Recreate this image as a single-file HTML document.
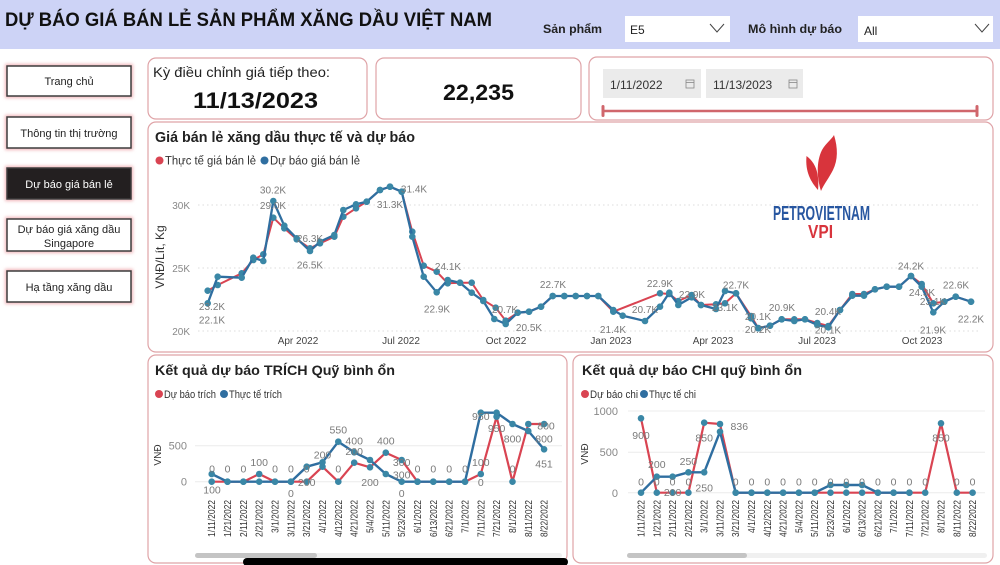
<!DOCTYPE html>
<html><head><meta charset="utf-8"><style>
html,body{margin:0;padding:0;background:#fff;}
svg{display:block;}
text{font-family:"Liberation Sans",sans-serif;}
</style></head><body>
<svg width="1000" height="565" viewBox="0 0 1000 565" xmlns="http://www.w3.org/2000/svg">
<defs>
<marker id="dot" markerWidth="8" markerHeight="8" refX="4" refY="4" markerUnits="userSpaceOnUse"><circle cx="4" cy="4" r="3.3" fill="#3a87a6"/></marker>
<filter id="glow" x="-20%" y="-40%" width="140%" height="180%"><feGaussianBlur stdDeviation="1.6"/></filter>
</defs>
<rect width="1000" height="565" fill="#fff"/>
<!-- header -->
<rect x="0" y="0" width="1000" height="49" fill="#cdd3f6"/>
<text x="5" y="26" font-size="19" font-weight="bold" fill="#111" textLength="487" lengthAdjust="spacingAndGlyphs">DỰ BÁO GIÁ BÁN LẺ SẢN PHẨM XĂNG DẦU VIỆT NAM</text>
<text x="543" y="33" font-size="12" font-weight="bold" fill="#222" textLength="59" lengthAdjust="spacingAndGlyphs">Sản phẩm</text>
<rect x="625" y="16" width="105" height="26" fill="#fff"/>
<text x="630" y="34" font-size="12" fill="#222">E5</text>
<polyline points="710,24 717,32 724,24" fill="none" stroke="#444" stroke-width="1"/>
<text x="748" y="33" font-size="12" font-weight="bold" fill="#222" textLength="94" lengthAdjust="spacingAndGlyphs">Mô hình dự báo</text>
<rect x="858" y="16" width="135" height="26" fill="#fff"/>
<text x="864" y="35" font-size="12" fill="#222">All</text>
<polyline points="975,24 982,32 989,24" fill="none" stroke="#444" stroke-width="1"/>

<!-- sidebar -->
<g>
<rect x="7" y="66" width="124" height="30" fill="none" stroke="#f0b4b8" stroke-width="4" filter="url(#glow)"/>
<rect x="7" y="66" width="124" height="30" fill="#fff" stroke="#3c3c3c" stroke-width="1.5"/>
<text x="69" y="85" font-size="11" fill="#222" text-anchor="middle">Trang chủ</text>
<rect x="7" y="117" width="124" height="31" fill="none" stroke="#f0b4b8" stroke-width="4" filter="url(#glow)"/>
<rect x="7" y="117" width="124" height="31" fill="#fff" stroke="#3c3c3c" stroke-width="1.5"/>
<text x="69" y="137" font-size="11" fill="#222" text-anchor="middle">Thông tin thị trường</text>
<rect x="7" y="168" width="124" height="31" fill="none" stroke="#f0b4b8" stroke-width="4" filter="url(#glow)"/>
<rect x="7" y="168" width="124" height="31" fill="#231f20" stroke="#3c3c3c" stroke-width="1.5"/>
<text x="69" y="188" font-size="11" fill="#fff" text-anchor="middle">Dự báo giá bán lẻ</text>
<rect x="7" y="219" width="124" height="32" fill="none" stroke="#f0b4b8" stroke-width="4" filter="url(#glow)"/>
<rect x="7" y="219" width="124" height="32" fill="#fff" stroke="#3c3c3c" stroke-width="1.5"/>
<text x="69" y="233" font-size="11" fill="#222" text-anchor="middle">Dự báo giá xăng dầu</text>
<text x="69" y="247" font-size="11" fill="#222" text-anchor="middle">Singapore</text>
<rect x="7" y="271" width="124" height="31" fill="none" stroke="#f0b4b8" stroke-width="4" filter="url(#glow)"/>
<rect x="7" y="271" width="124" height="31" fill="#fff" stroke="#3c3c3c" stroke-width="1.5"/>
<text x="69" y="291" font-size="11" fill="#222" text-anchor="middle">Hạ tầng xăng dầu</text>
</g>

<!-- cards -->
<rect x="148" y="58" width="219" height="61" rx="8" fill="#fff" stroke="#dfa3a7" stroke-width="1.2"/>
<text x="153" y="77" font-size="14" fill="#222" textLength="177" lengthAdjust="spacingAndGlyphs">Kỳ điều chỉnh giá tiếp theo:</text>
<text x="193" y="108" font-size="22" font-weight="bold" fill="#111" textLength="125" lengthAdjust="spacingAndGlyphs">11/13/2023</text>
<rect x="376" y="58" width="205" height="61" rx="8" fill="#fff" stroke="#dfa3a7" stroke-width="1.2"/>
<text x="443" y="100" font-size="22" font-weight="bold" fill="#111" textLength="71" lengthAdjust="spacingAndGlyphs">22,235</text>
<rect x="589" y="57" width="404" height="63" rx="8" fill="#fff" stroke="#dfa3a7" stroke-width="1.2"/>
<rect x="603" y="69" width="98" height="29" fill="#ebebeb"/>
<text x="610" y="89" font-size="12" fill="#333">1/11/2022</text>
<rect x="686" y="80" width="8" height="8" fill="none" stroke="#888" stroke-width="0.8"/><line x1="686" y1="82.5" x2="694" y2="82.5" stroke="#888" stroke-width="0.8"/>
<rect x="706" y="69" width="97" height="29" fill="#ebebeb"/>
<text x="713" y="89" font-size="12" fill="#333">11/13/2023</text>
<rect x="789" y="80" width="8" height="8" fill="none" stroke="#888" stroke-width="0.8"/><line x1="789" y1="82.5" x2="797" y2="82.5" stroke="#888" stroke-width="0.8"/>
<line x1="603" y1="111" x2="977" y2="111" stroke="#d0666c" stroke-width="2.5"/>
<rect x="601.5" y="105" width="3" height="12" rx="1.5" fill="#d0666c"/>
<rect x="975.5" y="105" width="3" height="12" rx="1.5" fill="#d0666c"/>

<!-- main chart panel -->
<rect x="148" y="122" width="845" height="230" rx="8" fill="#fff" stroke="#dfa3a7" stroke-width="1.2"/>
<text x="155" y="142" font-size="15" font-weight="bold" fill="#222" textLength="260" lengthAdjust="spacingAndGlyphs">Giá bán lẻ xăng dầu thực tế và dự báo</text>
<circle cx="159.5" cy="160.5" r="4" fill="#d94452"/>
<text x="165" y="164.5" font-size="11.5" fill="#333" textLength="91" lengthAdjust="spacingAndGlyphs">Thực tế giá bán lẻ</text>
<circle cx="264.5" cy="160.5" r="4" fill="#2f6ea0"/>
<text x="270" y="164.5" font-size="11.5" fill="#333" textLength="90" lengthAdjust="spacingAndGlyphs">Dự báo giá bán lẻ</text>
<text transform="translate(164,257) rotate(-90)" font-size="12" fill="#333" text-anchor="middle">VNĐ/Lít, Kg</text>
<g font-size="10" fill="#888" text-anchor="end">
<text x="190" y="209">30K</text><text x="190" y="272">25K</text><text x="190" y="335">20K</text>
</g>
<g stroke="#dcdcdc" stroke-width="1" stroke-dasharray="1.5 3">
<line x1="198" y1="205" x2="980" y2="205"/><line x1="198" y1="268" x2="980" y2="268"/><line x1="198" y1="331" x2="980" y2="331"/>
</g>
<g font-size="10" fill="#444" text-anchor="middle">
<text x="298" y="344">Apr 2022</text><text x="401" y="344">Jul 2022</text><text x="506" y="344">Oct 2022</text><text x="611" y="344">Jan 2023</text><text x="713" y="344">Apr 2023</text><text x="817" y="344">Jul 2023</text><text x="922" y="344">Oct 2023</text>
</g>
<!-- logo -->
<path d="M821,191 C817,178 816,162 822,150 C826,143 832,139 834,135 C838,148 838,160 833,170 C829,178 824,184 821,191 Z" fill="#d8343c"/>
<path d="M818,190 C811,182 805,172 806.5,156 C812,160 816,166 817.5,174 C818.5,180 818.5,186 818,190 Z" fill="#d8343c"/>
<text x="773" y="220" font-size="20" font-weight="bold" fill="#2756a0" textLength="97" lengthAdjust="spacingAndGlyphs">PETROVIETNAM</text>
<text x="808" y="238" font-size="18" font-weight="bold" fill="#d8343c" textLength="25" lengthAdjust="spacingAndGlyphs">VPI</text>

<polyline fill="none" stroke="#d94452" stroke-width="2" stroke-linejoin="round" marker-start="url(#dot)" marker-mid="url(#dot)" marker-end="url(#dot)" points="207.7,290.7 217.7,285 241.7,273.3 253.3,260 263.3,254.3 273.3,217.7 284.3,228.3 296.7,239.3 310,248.3 320,243.3 334.3,236.7 343.3,216.7 356,208.3 366.7,201.7 380,190 390,186.7 401.7,191.7 412.3,231.7 423.7,265.7 436.7,271.7 447.7,283.3 460,282.7 471.7,282.7 483.3,300 495.7,307.7 505.7,320.7 517.7,312.7 529,311.7 541,306.7 552.7,296 564.3,296 575.7,296 587,296 598.3,296 613.3,311.7 660,293.3 669.3,294 678.3,301 691.7,295 701,305 716,304.3 725,303.3 736,293.3 751,316 758.3,328 770,325.7 781.7,319.3 794.3,319.3 805,319.3 817.3,323 828.3,326 840,310 852.3,294 864,294 875,289.3 886.7,286.7 899,286.7 911,276 921.7,284 933.3,303.3 944.3,301.7 955.7,296.7 971,301.7"/>
<polyline fill="none" stroke="#2f6ea0" stroke-width="2.3" stroke-linejoin="round" marker-start="url(#dot)" marker-mid="url(#dot)" marker-end="url(#dot)" points="207.7,303.3 217.7,276.7 241.7,277.7 253.3,257.7 263.3,261 273.3,201 284.3,225.7 296.7,238.3 310,251 320,241.7 334.3,235 343.3,210 356,204.3 366.7,201.7 380,190 390,186.7 401.7,191.7 412.3,236.7 423.7,276.7 436.7,292.3 447.7,280 460,282.7 471.7,292.7 483.3,301 494.3,319 505.7,324 517.7,312.7 529,311.7 541,306.7 552.7,296 564.3,296 575.7,296 587,296 598.3,296 613.3,310 622.7,315.7 645,321 660,306.7 669.3,292.7 678.3,305 691.7,297.3 701,305 716,309 725,291 736,293.3 751,318.3 758.3,328.3 770,325.7 781.7,319.3 794.3,321 805,319.3 817.3,325 828.3,327.3 840,310 852.3,295.7 864,295.7 875,289.3 886.7,286.7 899,286.7 911,276 921.7,286.7 933.3,312.3 944.3,301.7 955.7,296.7 971,301.7"/>
<g font-size="10" fill="#7a7a7a" text-anchor="middle">
<text x="212" y="310">23.2K</text><text x="212" y="323.5">22.1K</text>
<text x="273" y="193.5">30.2K</text><text x="273" y="209">29.0K</text>
<text x="310" y="242">26.3K</text><text x="310" y="268.5">26.5K</text>
<text x="414" y="192.5">31.4K</text><text x="390" y="208">31.3K</text>
<text x="448" y="270">24.1K</text><text x="437" y="312.5">22.9K</text>
<text x="505" y="313">20.7K</text><text x="529" y="331">20.5K</text>
<text x="553" y="288">22.7K</text><text x="613" y="333">21.4K</text>
<text x="660" y="287">22.9K</text><text x="645" y="313">20.7K</text><text x="692" y="298">22.9K</text>
<text x="725" y="311">23.1K</text><text x="736" y="288.5">22.7K</text>
<text x="758" y="320">20.1K</text><text x="758" y="333">20.2K</text><text x="782" y="311">20.9K</text>
<text x="828" y="315">20.4K</text><text x="828" y="333.5">20.1K</text>
<text x="911" y="269.5">24.2K</text><text x="922" y="296">24.3K</text><text x="933" y="305">23.1K</text><text x="933" y="333.5">21.9K</text>
<text x="956" y="288.5">22.6K</text><text x="971" y="322.5">22.2K</text>
</g>

<!-- bottom-left panel -->
<rect x="148" y="355" width="419" height="208" rx="8" fill="#fff" stroke="#dfa3a7" stroke-width="1.2"/>
<text x="155" y="375" font-size="14" font-weight="bold" fill="#222" textLength="240" lengthAdjust="spacingAndGlyphs">Kết quả dự báo TRÍCH Quỹ bình ổn</text>
<circle cx="159" cy="394" r="4" fill="#d94452"/>
<text x="164" y="398" font-size="11" fill="#333" textLength="52" lengthAdjust="spacingAndGlyphs">Dự báo trích</text>
<circle cx="224" cy="394" r="4" fill="#2f6ea0"/>
<text x="229" y="398" font-size="11" fill="#333" textLength="53" lengthAdjust="spacingAndGlyphs">Thực tế trích</text>
<text transform="translate(161,455) rotate(-90)" font-size="10" fill="#333" text-anchor="middle">VNĐ</text>
<g font-size="11" fill="#888" text-anchor="end"><text x="187" y="449.5">500</text><text x="187" y="485.5">0</text></g>
<g stroke="#ececec" stroke-width="1"><line x1="195" y1="445.7" x2="562" y2="445.7"/><line x1="195" y1="481.7" x2="562" y2="481.7"/></g>
<polyline fill="none" stroke="#d94452" stroke-width="2.2" stroke-linejoin="round" marker-start="url(#dot)" marker-mid="url(#dot)" marker-end="url(#dot)" points="211.7,481.7 227.5,481.7 243.4,481.7 259.2,474 275,481.7 290.9,481.7 306.7,481.7 322.5,466.7 338.3,481.7 354.2,462.7 370,467.3 385.8,452.7 401.7,460 417.5,481.7 433.3,481.7 449.2,481.7 465,481.7 480.8,474 496.6,416.7 512.5,481.7 528.3,424 544.1,424"/>
<polyline fill="none" stroke="#2f6ea0" stroke-width="2.4" stroke-linejoin="round" marker-start="url(#dot)" marker-mid="url(#dot)" marker-end="url(#dot)" points="211.7,474 227.5,481.7 243.4,481.7 259.2,481.7 275,481.7 290.9,481.7 306.7,466.7 322.5,462.3 338.3,441.7 354.2,452.3 370,460 385.8,474 401.7,481.7 417.5,481.7 433.3,481.7 449.2,481.7 465,481.7 480.8,412.7 496.6,412.7 512.5,424 528.3,431 544.1,449.3"/>
<g font-size="10.5" fill="#7a7a7a" text-anchor="middle">
<text x="212" y="472.5">0</text><text x="212" y="493.5">100</text><text x="227.5" y="472.5">0</text><text x="243.4" y="472.5">0</text><text x="259.2" y="466">100</text><text x="275" y="472.5">0</text><text x="290.9" y="472.5">0</text><text x="290.9" y="497">0</text><text x="306.7" y="472.5">0</text><text x="306.7" y="486">200</text><text x="322.5" y="458.5">200</text><text x="338.3" y="433.5">550</text><text x="338.3" y="472.5">0</text><text x="354.2" y="444.5">400</text><text x="354.2" y="455">200</text><text x="370" y="486">200</text><text x="385.8" y="444.5">400</text><text x="401.7" y="466">300</text><text x="401.7" y="478.5">300</text><text x="401.7" y="497">0</text><text x="417.5" y="472.5">0</text><text x="433.3" y="472.5">0</text><text x="449.2" y="472.5">0</text><text x="465" y="472.5">0</text><text x="480.8" y="466">100</text><text x="480.8" y="486">0</text><text x="480.8" y="420">950</text><text x="496.6" y="432">950</text><text x="512.5" y="442.5">800</text><text x="512.5" y="472.5">0</text><text x="546" y="429.5">800</text><text x="544" y="442.5">800</text><text x="544" y="467.5">451</text>
</g>
<g font-size="10" fill="#333" text-anchor="end">
<text transform="translate(215.2,500) rotate(-90)" textLength="37" lengthAdjust="spacingAndGlyphs">1/11/2022</text>
<text transform="translate(231,500) rotate(-90)" textLength="37" lengthAdjust="spacingAndGlyphs">1/21/2022</text>
<text transform="translate(246.9,500) rotate(-90)" textLength="37" lengthAdjust="spacingAndGlyphs">2/11/2022</text>
<text transform="translate(262.7,500) rotate(-90)" textLength="37" lengthAdjust="spacingAndGlyphs">2/21/2022</text>
<text transform="translate(278.5,500) rotate(-90)" textLength="33" lengthAdjust="spacingAndGlyphs">3/1/2022</text>
<text transform="translate(294.4,500) rotate(-90)" textLength="37" lengthAdjust="spacingAndGlyphs">3/11/2022</text>
<text transform="translate(310.2,500) rotate(-90)" textLength="37" lengthAdjust="spacingAndGlyphs">3/21/2022</text>
<text transform="translate(326,500) rotate(-90)" textLength="33" lengthAdjust="spacingAndGlyphs">4/1/2022</text>
<text transform="translate(341.8,500) rotate(-90)" textLength="37" lengthAdjust="spacingAndGlyphs">4/12/2022</text>
<text transform="translate(357.7,500) rotate(-90)" textLength="37" lengthAdjust="spacingAndGlyphs">4/21/2022</text>
<text transform="translate(373.5,500) rotate(-90)" textLength="33" lengthAdjust="spacingAndGlyphs">5/4/2022</text>
<text transform="translate(389.3,500) rotate(-90)" textLength="37" lengthAdjust="spacingAndGlyphs">5/11/2022</text>
<text transform="translate(405.2,500) rotate(-90)" textLength="37" lengthAdjust="spacingAndGlyphs">5/23/2022</text>
<text transform="translate(421,500) rotate(-90)" textLength="33" lengthAdjust="spacingAndGlyphs">6/1/2022</text>
<text transform="translate(436.8,500) rotate(-90)" textLength="37" lengthAdjust="spacingAndGlyphs">6/13/2022</text>
<text transform="translate(452.7,500) rotate(-90)" textLength="37" lengthAdjust="spacingAndGlyphs">6/21/2022</text>
<text transform="translate(468.5,500) rotate(-90)" textLength="33" lengthAdjust="spacingAndGlyphs">7/1/2022</text>
<text transform="translate(484.3,500) rotate(-90)" textLength="37" lengthAdjust="spacingAndGlyphs">7/11/2022</text>
<text transform="translate(500.1,500) rotate(-90)" textLength="37" lengthAdjust="spacingAndGlyphs">7/21/2022</text>
<text transform="translate(516,500) rotate(-90)" textLength="33" lengthAdjust="spacingAndGlyphs">8/1/2022</text>
<text transform="translate(531.8,500) rotate(-90)" textLength="37" lengthAdjust="spacingAndGlyphs">8/11/2022</text>
<text transform="translate(547.6,500) rotate(-90)" textLength="37" lengthAdjust="spacingAndGlyphs">8/22/2022</text>
</g>
<rect x="195" y="553" width="367" height="5" rx="2.5" fill="#f0f0f0"/>
<rect x="195" y="553" width="122" height="5" rx="2.5" fill="#c4c4c4"/>

<!-- bottom-right panel -->
<rect x="573" y="355" width="420" height="208" rx="8" fill="#fff" stroke="#dfa3a7" stroke-width="1.2"/>
<text x="582" y="375" font-size="14" font-weight="bold" fill="#222" textLength="220" lengthAdjust="spacingAndGlyphs">Kết quả dự báo CHI quỹ bình ổn</text>
<circle cx="585" cy="394" r="4" fill="#d94452"/>
<text x="590" y="398" font-size="11" fill="#333" textLength="48" lengthAdjust="spacingAndGlyphs">Dự báo chi</text>
<circle cx="644" cy="394" r="4" fill="#2f6ea0"/>
<text x="649" y="398" font-size="11" fill="#333" textLength="47" lengthAdjust="spacingAndGlyphs">Thực tế chi</text>
<text transform="translate(588,454) rotate(-90)" font-size="10" fill="#333" text-anchor="middle">VNĐ</text>
<g font-size="11" fill="#888" text-anchor="end"><text x="618" y="415">1000</text><text x="618" y="456">500</text><text x="618" y="497">0</text></g>
<g stroke="#ececec" stroke-width="1"><line x1="628" y1="411" x2="985" y2="411"/><line x1="628" y1="452.3" x2="985" y2="452.3"/><line x1="628" y1="492.7" x2="985" y2="492.7"/></g>
<polyline fill="none" stroke="#d94452" stroke-width="2.2" stroke-linejoin="round" marker-start="url(#dot)" marker-mid="url(#dot)" marker-end="url(#dot)" points="641,418.3 656.8,492.7 672.6,492.7 688.4,492.7 704.2,422.7 720,424 735.7,492.7 751.5,492.7 767.3,492.7 783.1,492.7 798.9,492.7 814.7,492.7 830.5,492.7 846.3,492.7 862.1,492.7 877.9,492.7 893.6,492.7 909.4,492.7 925.2,492.7 941,423.3 956.8,492.7 972.6,492.7"/>
<polyline fill="none" stroke="#2f6ea0" stroke-width="2.4" stroke-linejoin="round" marker-start="url(#dot)" marker-mid="url(#dot)" marker-end="url(#dot)" points="641,492.7 656.8,476.7 672.6,476.7 688.4,472.3 704.2,472.3 720,431.7 735.7,492.7 751.5,492.7 767.3,492.7 783.1,492.7 798.9,492.7 814.7,492.7 830.5,485 846.3,485 862.1,485 877.9,492.7 893.6,492.7 909.4,492.7"/>
<g font-size="10.5" fill="#7a7a7a" text-anchor="middle">
<text x="641" y="439">900</text><text x="641" y="485.5">0</text><text x="656.8" y="468">200</text><text x="656.8" y="485.5">0</text><text x="672.6" y="496">200</text><text x="672.6" y="485.5">0</text><text x="688.4" y="465">250</text><text x="688.4" y="485.5">0</text><text x="704.2" y="441.5">850</text><text x="704.2" y="491.5">250</text><text x="739.3" y="430">836</text>
<text x="735.7" y="485.5">0</text><text x="751.5" y="485.5">0</text><text x="767.3" y="485.5">0</text><text x="783.1" y="485.5">0</text><text x="798.9" y="485.5">0</text><text x="814.7" y="485.5">0</text><text x="830.5" y="485.5">0</text><text x="846.3" y="485.5">0</text><text x="862.1" y="485.5">0</text><text x="877.9" y="485.5">0</text><text x="893.6" y="485.5">0</text><text x="909.4" y="485.5">0</text><text x="925.2" y="485.5">0</text>
<text x="941" y="441.5">850</text><text x="956.8" y="485.5">0</text><text x="972.6" y="485.5">0</text>
</g>
<g font-size="10" fill="#333" text-anchor="end">
<text transform="translate(644.5,500) rotate(-90)" textLength="37" lengthAdjust="spacingAndGlyphs">1/11/2022</text>
<text transform="translate(660.3,500) rotate(-90)" textLength="37" lengthAdjust="spacingAndGlyphs">1/21/2022</text>
<text transform="translate(676.1,500) rotate(-90)" textLength="37" lengthAdjust="spacingAndGlyphs">2/11/2022</text>
<text transform="translate(691.9,500) rotate(-90)" textLength="37" lengthAdjust="spacingAndGlyphs">2/21/2022</text>
<text transform="translate(707.7,500) rotate(-90)" textLength="33" lengthAdjust="spacingAndGlyphs">3/1/2022</text>
<text transform="translate(723.5,500) rotate(-90)" textLength="37" lengthAdjust="spacingAndGlyphs">3/11/2022</text>
<text transform="translate(739.2,500) rotate(-90)" textLength="37" lengthAdjust="spacingAndGlyphs">3/21/2022</text>
<text transform="translate(755,500) rotate(-90)" textLength="33" lengthAdjust="spacingAndGlyphs">4/1/2022</text>
<text transform="translate(770.8,500) rotate(-90)" textLength="37" lengthAdjust="spacingAndGlyphs">4/12/2022</text>
<text transform="translate(786.6,500) rotate(-90)" textLength="37" lengthAdjust="spacingAndGlyphs">4/21/2022</text>
<text transform="translate(802.4,500) rotate(-90)" textLength="33" lengthAdjust="spacingAndGlyphs">5/4/2022</text>
<text transform="translate(818.2,500) rotate(-90)" textLength="37" lengthAdjust="spacingAndGlyphs">5/11/2022</text>
<text transform="translate(834,500) rotate(-90)" textLength="37" lengthAdjust="spacingAndGlyphs">5/23/2022</text>
<text transform="translate(849.8,500) rotate(-90)" textLength="33" lengthAdjust="spacingAndGlyphs">6/1/2022</text>
<text transform="translate(865.6,500) rotate(-90)" textLength="37" lengthAdjust="spacingAndGlyphs">6/13/2022</text>
<text transform="translate(881.4,500) rotate(-90)" textLength="37" lengthAdjust="spacingAndGlyphs">6/21/2022</text>
<text transform="translate(897.1,500) rotate(-90)" textLength="33" lengthAdjust="spacingAndGlyphs">7/1/2022</text>
<text transform="translate(912.9,500) rotate(-90)" textLength="37" lengthAdjust="spacingAndGlyphs">7/11/2022</text>
<text transform="translate(928.7,500) rotate(-90)" textLength="37" lengthAdjust="spacingAndGlyphs">7/21/2022</text>
<text transform="translate(944.5,500) rotate(-90)" textLength="33" lengthAdjust="spacingAndGlyphs">8/1/2022</text>
<text transform="translate(960.3,500) rotate(-90)" textLength="37" lengthAdjust="spacingAndGlyphs">8/11/2022</text>
<text transform="translate(976.1,500) rotate(-90)" textLength="37" lengthAdjust="spacingAndGlyphs">8/22/2022</text>
</g>
<rect x="627" y="553" width="360" height="5" rx="2.5" fill="#f0f0f0"/>
<rect x="627" y="553" width="120" height="5" rx="2.5" fill="#c4c4c4"/>

<!-- black bar at bottom -->
<rect x="243" y="558" width="325" height="8" rx="4" fill="#000"/>
</svg>
</body></html>
